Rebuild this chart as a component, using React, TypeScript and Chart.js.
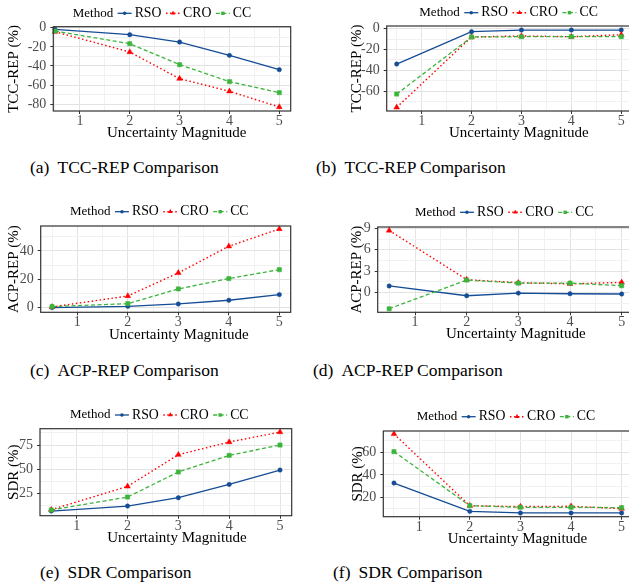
import React, { useEffect, useRef } from "react";
import { Chart, registerables } from "chart.js";

Chart.register(...registerables);

const SERIF = "'Liberation Serif', 'Times New Roman', Times, serif";

// ---- data ----
const xValues = [0.5, 2, 3, 4, 5];
const methods = ["RSO", "CRO", "CC"];

// (a) TCC-REP
const tccA_RSO = [-1.7, -7.3, -15.0, -28.9, -43.8];
const tccA_CRO = [-4.2, -25.4, -53.2, -66.4, -82.8];
const tccA_CC = [-3.5, -16.7, -38.6, -56.3, -67.8];
// (b) TCC-REP
const tccB_RSO = [-34.0, -2.9, -1.3, -1.3, -1.3];
const tccB_CRO = [-75.7, -8.0, -7.0, -7.7, -5.8];
const tccB_CC = [-62.9, -8.0, -7.7, -7.7, -7.7];
// (c) ACP-REP
const acpC_RSO = [0.0, 0.9, 2.6, 5.2, 9.2];
const acpC_CRO = [0.5, 8.2, 24.5, 43.3, 55.5];
const acpC_CC = [0.7, 2.8, 13.2, 20.5, 26.8];
// (d) ACP-REP
const acpD_RSO = [0.9, -0.47, -0.1, -0.19, -0.23];
const acpD_CRO = [8.7, 1.8, 1.35, 1.2, 1.4];
const acpD_CC = [-2.3, 1.73, 1.3, 1.3, 0.94];
// (e) SDR
const sdrE_RSO = [6.7, 11.9, 20.5, 34.3, 49.1];
const sdrE_CRO = [8.1, 32.2, 65.0, 78.1, 88.4];
const sdrE_CC = [7.8, 21.2, 47.1, 64.3, 75.0];
// (f) SDR
const sdrF_RSO = [32.9, 7.9, 6.5, 6.5, 6.5];
const sdrF_CRO = [76.2, 12.9, 12.1, 12.4, 10.3];
const sdrF_CC = [60.6, 12.9, 11.5, 11.5, 11.2];

// ticks
const xMajorTicks = [1, 2, 3, 4, 5];
const xMinorTicks = [0.5, 1.5, 2.5, 3.5, 4.5];
const tccMajorTicks = [0, -20, -40, -60, -80];
const tccMinorTicks = [-10, -30, -50, -70];
const acpCMajorTicks = [0, 20, 40];
const acpCMinorTicks = [10, 30, 50];
const acpDMajorTicks = [0, 3, 6, 9];
const acpDMinorTicks = [-1.5, 1.5, 4.5, 7.5];
const sdrEMajorTicks = [25, 50, 75];
const sdrEMinorTicks = [12.5, 37.5, 62.5, 87.5];
const sdrFMajorTicks = [20, 40, 60];
const sdrFMinorTicks = [10, 30, 50, 70];

const xTitleText = "Uncertainty Magnitude";

// ---- styles ----
const seriesStyle: Record<string, any> = {
  RSO: { color: "#154C96", dash: [], point: "circle", radius: 2.2, width: 1.3, order: 2 },
  CRO: { color: "#FF0000", dash: [1.5, 2.5], point: "triangle", radius: 3.3, width: 1.4, order: 1 },
  CC: { color: "#3CB43C", dash: [4, 2.5], point: "rect", radius: 3, width: 1.3, order: 0 },
};

function drawMarker(ctx: CanvasRenderingContext2D, kind: string, x: number, y: number, r: number, color: string) {
  ctx.save();
  ctx.fillStyle = color;
  ctx.beginPath();
  if (kind === "circle") {
    ctx.arc(x, y, r, 0, Math.PI * 2);
  } else if (kind === "triangle") {
    ctx.moveTo(x, y - r);
    ctx.lineTo(x + r * 0.866, y + r * 0.5);
    ctx.lineTo(x - r * 0.866, y + r * 0.5);
    ctx.closePath();
  } else {
    const s = r * Math.SQRT1_2;
    ctx.rect(x - s, y - s, 2 * s, 2 * s);
  }
  ctx.fill();
  ctx.restore();
}

const panelDeco = {
  id: "panelDeco",
  afterDraw(chart: any, _args: any, opts: any) {
    const ctx: CanvasRenderingContext2D = chart.ctx;
    const a = chart.chartArea;
    ctx.save();
    // panel border
    ctx.strokeStyle = "#333333";
    ctx.lineWidth = 1.2;
    ctx.setLineDash([]);
    ctx.strokeRect(a.left, a.top, a.right - a.left, a.bottom - a.top);
    // x title
    ctx.fillStyle = "#000";
    ctx.font = `15px ${SERIF}`;
    ctx.textAlign = "center";
    ctx.textBaseline = "alphabetic";
    ctx.fillText(opts.xTitle, opts.xTitleX, opts.xTitleBaseline);
    // y title
    ctx.save();
    ctx.translate(opts.yTitleX, (a.top + a.bottom) / 2);
    ctx.rotate(-Math.PI / 2);
    ctx.textBaseline = "middle";
    ctx.textAlign = "center";
    ctx.fillText(opts.yTitle, 0, 0);
    ctx.restore();
    // legend
    let x = opts.legendX;
    const y = opts.legendY;
    ctx.textAlign = "left";
    ctx.textBaseline = "middle";
    ctx.fillStyle = "#000";
    ctx.font = `13px ${SERIF}`;
    ctx.fillText("Method", x, y);
    x += ctx.measureText("Method").width + 4.5;
    ctx.font = `13.8px ${SERIF}`;
    for (const m of methods) {
      const st = seriesStyle[m];
      ctx.strokeStyle = st.color;
      ctx.lineWidth = st.width;
      ctx.setLineDash(st.dash);
      ctx.beginPath();
      ctx.moveTo(x, y);
      ctx.lineTo(x + 14, y);
      ctx.stroke();
      ctx.setLineDash([]);
      drawMarker(ctx, st.point, x + 7, y, st.radius * 0.8, st.color);
      x += 17;
      ctx.fillStyle = "#000";
      ctx.fillText(m, x, y);
      x += ctx.measureText(m).width + 4.5;
    }
    ctx.restore();
  },
};

type PanelCfg = {
  ox: number; oy: number; w: number; h: number;
  plot: { l: number; t: number; r: number; b: number };
  xMin: number; xMax: number; yMin: number; yMax: number;
  yMajor: number[]; yMinor: number[];
  series: number[][];
  legendX: number; legendY: number;
  xTitleX: number; xTitleBaseline: number;
  yTitleX: number; yTitle: string;
};

const panels: PanelCfg[] = [
  {
    ox: 0, oy: 0, w: 314, h: 150,
    plot: { l: 53.3, t: 26.7, r: 290.7, b: 111 },
    xMin: 0.466, xMax: 5.229, yMin: -87, yMax: 1.04,
    yMajor: tccMajorTicks, yMinor: tccMinorTicks,
    series: [tccA_RSO, tccA_CRO, tccA_CC],
    legendX: 72.7, legendY: 13.3, xTitleX: 176.7, xTitleBaseline: 137, yTitleX: 13.7, yTitle: "TCC-REP (%)",
  },
  {
    ox: 314, oy: 0, w: 331, h: 150,
    plot: { l: 386.7, t: 26, r: 632.5, b: 111 },
    xMin: 0.3, xMax: 5.225, yMin: -79.2, yMax: 2.6,
    yMajor: tccMajorTicks.slice(0, 4), yMinor: tccMinorTicks,
    series: [tccB_RSO, tccB_CRO, tccB_CC],
    legendX: 419.3, legendY: 12.7, xTitleX: 518.8, xTitleBaseline: 137, yTitleX: 357.5, yTitle: "TCC-REP (%)",
  },
  {
    ox: 0, oy: 195, w: 314, h: 155,
    plot: { l: 40.7, t: 226, r: 290.7, b: 312.3 },
    xMin: 0.275, xMax: 5.225, yMin: -3.3, yMax: 57.6,
    yMajor: acpCMajorTicks, yMinor: acpCMinorTicks,
    series: [acpC_RSO, acpC_CRO, acpC_CC],
    legendX: 70, legendY: 211.7, xTitleX: 178.8, xTitleBaseline: 339, yTitleX: 14, yTitle: "ACP-REP (%)",
  },
  {
    ox: 314, oy: 195, w: 331, h: 155,
    plot: { l: 377.7, t: 227, r: 633.3, b: 312.3 },
    xMin: 0.278, xMax: 5.225, yMin: -2.8, yMax: 9.19,
    yMajor: acpDMajorTicks, yMinor: acpDMinorTicks,
    series: [acpD_RSO, acpD_CRO, acpD_CC],
    legendX: 415, legendY: 212.3, xTitleX: 515.8, xTitleBaseline: 338.3, yTitleX: 357.5, yTitle: "ACP-REP (%)",
  },
  {
    ox: 0, oy: 395, w: 314, h: 155,
    plot: { l: 40, t: 428.7, r: 291.7, b: 515.7 },
    xMin: 0.278, xMax: 5.23, yMin: 1.9, yMax: 91.9,
    yMajor: sdrEMajorTicks, yMinor: sdrEMinorTicks,
    series: [sdrE_RSO, sdrE_CRO, sdrE_CC],
    legendX: 70, legendY: 415, xTitleX: 177, xTitleBaseline: 541.7, yTitleX: 14, yTitle: "SDR (%)",
  },
  {
    ox: 314, oy: 395, w: 331, h: 155,
    plot: { l: 383.3, t: 431, r: 633, b: 516.7 },
    xMin: 0.289, xMax: 5.225, yMin: 3.2, yMax: 78.8,
    yMajor: sdrFMajorTicks, yMinor: sdrFMinorTicks,
    series: [sdrF_RSO, sdrF_CRO, sdrF_CC],
    legendX: 416.7, legendY: 416.7, xTitleX: 517.5, xTitleBaseline: 542.7, yTitleX: 357.8, yTitle: "SDR (%)",
  },
];

const captions = [
  { label: "(a)", text: "TCC-REP Comparison", left: 30, cy: 167 },
  { label: "(b)", text: "TCC-REP Comparison", left: 316, cy: 167 },
  { label: "(c)", text: "ACP-REP Comparison", left: 30, cy: 369.5 },
  { label: "(d)", text: "ACP-REP Comparison", left: 313, cy: 369.5 },
  { label: "(e)", text: "SDR Comparison", left: 40, cy: 572 },
  { label: "(f)", text: "SDR Comparison", left: 333, cy: 572 },
];

function buildConfig(p: PanelCfg): any {
  const datasets = methods.map((m, i) => {
    const st = seriesStyle[m];
    return {
      label: m,
      data: xValues.map((x, j) => ({ x, y: p.series[i][j] })),
      borderColor: st.color,
      backgroundColor: st.color,
      borderWidth: st.width,
      borderDash: st.dash,
      pointStyle: st.point,
      pointRadius: st.radius,
      pointBorderWidth: 0.5,
      pointBorderColor: st.color,
      pointBackgroundColor: st.color,
      tension: 0,
      order: st.order,
      clip: false,
    };
  });
  const allX = [...xMinorTicks, ...xMajorTicks];
  const allY = [...p.yMinor, ...p.yMajor];
  const isMajorX = (v: number) => xMajorTicks.includes(v);
  const isMajorY = (v: number) => p.yMajor.includes(v);
  const tickFont = { family: SERIF, size: 14, lineHeight: 1 };
  return {
    type: "line",
    data: { datasets },
    options: {
      responsive: false,
      animation: false,
      devicePixelRatio: 1,
      layout: {
        padding: { left: 0, bottom: 0, top: p.plot.t - p.oy, right: p.ox + p.w - p.plot.r },
      },
      plugins: {
        legend: { display: false },
        tooltip: { enabled: false },
        panelDeco: {
          xTitle: xTitleText,
          xTitleX: p.xTitleX - p.ox,
          xTitleBaseline: p.xTitleBaseline - p.oy,
          yTitle: p.yTitle,
          yTitleX: p.yTitleX - p.ox,
          legendX: p.legendX - p.ox,
          legendY: p.legendY - p.oy,
        },
      },
      scales: {
        x: {
          type: "linear",
          min: p.xMin,
          max: p.xMax,
          afterBuildTicks: (s: any) => {
            s.ticks = allX.map((v) => ({ value: v }));
          },
          afterFit: (s: any) => {
            s.height = p.oy + p.h - p.plot.b;
          },
          ticks: {
            autoSkip: false,
            maxRotation: 0,
            padding: 0.5,
            color: "#4D4D4D",
            font: tickFont,
            callback: (v: number) => (isMajorX(v) ? String(v) : ""),
          },
          grid: {
            color: (c: any) => (c.tick && isMajorX(c.tick.value) ? "#E3E3E3" : "#F1F1F1"),
            lineWidth: 1,
            tickColor: (c: any) => (c.tick && isMajorX(c.tick.value) ? "#333333" : "rgba(0,0,0,0)"),
            tickLength: 3,
            drawTicks: true,
          },
          border: { display: false },
        },
        y: {
          type: "linear",
          min: p.yMin,
          max: p.yMax,
          afterBuildTicks: (s: any) => {
            s.ticks = allY.map((v) => ({ value: v }));
          },
          afterFit: (s: any) => {
            s.width = p.plot.l - p.ox;
          },
          ticks: {
            autoSkip: false,
            padding: 4,
            color: "#4D4D4D",
            font: tickFont,
            callback: (v: number) => (isMajorY(v) ? String(v) : ""),
          },
          grid: {
            color: (c: any) => (c.tick && isMajorY(c.tick.value) ? "#E3E3E3" : "#F1F1F1"),
            lineWidth: 1,
            tickColor: (c: any) => (c.tick && isMajorY(c.tick.value) ? "#333333" : "rgba(0,0,0,0)"),
            tickLength: 3,
            drawTicks: true,
          },
          border: { display: false },
        },
      },
    },
    plugins: [panelDeco],
  };
}

function Panel({ p }: { p: PanelCfg }) {
  const ref = useRef<HTMLCanvasElement>(null);
  useEffect(() => {
    if (!ref.current) return;
    const chart = new Chart(ref.current, buildConfig(p));
    return () => chart.destroy();
  }, []);
  return (
    <canvas
      ref={ref}
      width={p.w}
      height={p.h}
      style={{ position: "absolute", left: p.ox, top: p.oy, width: p.w, height: p.h }}
    />
  );
}

export default function App() {
  return (
    <div
      style={{
        position: "absolute",
        left: 0,
        top: 0,
        width: 629,
        height: 586,
        overflow: "hidden",
        background: "#ffffff",
      }}
    >
      {panels.map((p, i) => (
        <Panel key={i} p={p} />
      ))}
      {captions.map((c, i) => (
        <div
          key={"c" + i}
          style={{
            position: "absolute",
            left: c.left,
            top: c.cy - 9,
            fontFamily: SERIF,
            fontSize: 17.5,
            lineHeight: "18px",
            color: "#000",
            whiteSpace: "nowrap",
          }}
        >
          <span>{c.label}</span>
          <span style={{ marginLeft: 8 }}>{c.text}</span>
        </div>
      ))}
    </div>
  );
}
